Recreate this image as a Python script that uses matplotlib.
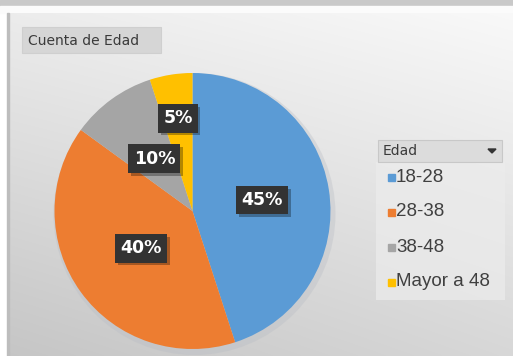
import numpy as np
import matplotlib
matplotlib.use("Agg")
import matplotlib.pyplot as plt
from matplotlib.patches import Rectangle, Polygon, Circle
import matplotlib.patheffects as pe

categories = ["18-28", "28-38", "38-48", "Mayor a 48"]
values = [45, 40, 10, 5]
colors = ["#5B9BD5", "#ED7D31", "#A5A5A5", "#FFC000"]
title = "Cuenta de Edad"
legend_title = "Edad"

W, H = 513, 356
fig = plt.figure(figsize=(W / 100, H / 100), dpi=100)

# background axes in pixel coords (y downward)
bg = fig.add_axes([0, 0, 1, 1])
bg.set_xlim(0, W)
bg.set_ylim(H, 0)
bg.axis("off")
bg.add_patch(Rectangle((0, 0), W, H, color="white", zorder=0))
bg.add_patch(Rectangle((0, 0), W, 6, color="#c9c9c9", zorder=1))
bg.add_patch(Rectangle((0, 6), W, 7, color="#fbfbfb", zorder=1))
# gradient chart area
yy, xx = np.mgrid[0:1:200j, 0:1:300j]
g = 0.975 - 0.15 * yy - 0.05 * (1 - xx) + 0.02 * yy * xx
g = np.clip(g, 0, 1)
img = np.dstack([g, g, g])
bg.imshow(img, extent=(8, W, H, 13), aspect="auto", zorder=1, interpolation="bilinear")
bg.add_patch(Rectangle((7, 13), 1.5, H - 13, color="#bdbdbd", zorder=2))

# title button
bg.add_patch(Rectangle((22, 27), 139, 26, facecolor="#d6d6d6", edgecolor="#cfcfcf", lw=0.8, zorder=3))
bg.text(28, 41, title, fontsize=10, color="#3a3a3a", va="center", ha="left",
        family="DejaVu Sans", zorder=4)

# pie shadow
cx, cy, R = 192.5, 211, 138
bg.add_patch(Circle((cx + 2, cy + 3), R + 3, color="#b8bcc4", alpha=0.35, zorder=2, lw=0))

# pie axes
pax = fig.add_axes([(cx - R) / W, (H - cy - R) / H, 2 * R / W, 2 * R / H])
pax.axis("off")
wedges, _ = pax.pie(values, colors=colors, startangle=90, counterclock=False,
                    radius=1, wedgeprops=dict(linewidth=0))
pax.set_xlim(-1, 1)
pax.set_ylim(-1, 1)

label_dist = [0.51, 0.46, 0.47, 0.68]
total = sum(values)
for w, v, d in zip(wedges, values, label_dist):
    ang = np.deg2rad((w.theta1 + w.theta2) / 2)
    x, y = d * np.cos(ang), d * np.sin(ang)
    t = pax.text(x, y, f"{round(100 * v / total)}%", fontsize=12.5, fontweight="bold",
                 color="white", ha="center", va="center", zorder=5,
                 bbox=dict(boxstyle="square,pad=0.3", facecolor="#333333", edgecolor="none"))
    t.get_bbox_patch().set_path_effects([
        pe.SimplePatchShadow(offset=(2, -2), shadow_rgbFace="black", alpha=0.3),
        pe.Normal()])

# legend panel
bg.add_patch(Rectangle((376, 162), 129, 138, facecolor="#ececec", edgecolor="none", alpha=0.7, zorder=3))
bg.add_patch(Rectangle((378, 140), 124, 22, facecolor="#dcdcdc", edgecolor="#c8c8c8", lw=0.8, zorder=3))
bg.text(383, 151, legend_title, fontsize=10, color="#3a3a3a", va="center", ha="left", zorder=4)
bg.add_patch(Polygon([[488, 149], [496, 149], [492, 153]], closed=True, color="#333333", zorder=4))

leg_y0, leg_dy = 177, 35
for i, (c, lab) in enumerate(zip(colors, categories)):
    y = leg_y0 + i * leg_dy
    bg.add_patch(Rectangle((388, y - 3.5), 7, 7, color=c, zorder=4))
    bg.text(396, y, lab, fontsize=13.5, color="#404040", va="center", ha="left",
            family="Liberation Sans", zorder=4)

fig.savefig("out.png", dpi=100)
